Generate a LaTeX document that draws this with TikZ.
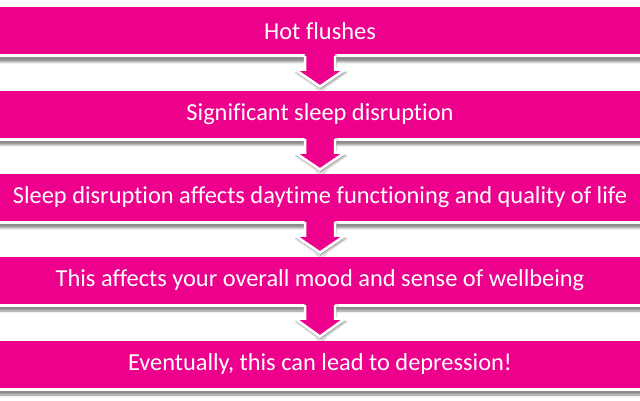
\documentclass[tikz,border=0pt]{standalone}
\usepackage{fontspec}
\setmainfont[Ligatures=NoCommon]{Carlito}
\usetikzlibrary{calc,shadows.blur}
\definecolor{mag}{HTML}{EC008C}
\tikzset{
  x=1pt,y=1pt,
  bar/.style={fill=mag, draw=white, line width=3pt, minimum width=646pt, minimum height=50pt,
    inner sep=0pt, text=white, font=\fontsize{24.4}{28}\selectfont,
    blur shadow={shadow xshift=0pt, shadow yshift=-6pt, shadow blur steps=6, shadow blur radius=2pt, shadow opacity=45}},
  arrowfill/.style={fill=mag,
    blur shadow={shadow xshift=1pt, shadow yshift=-3pt, shadow blur steps=5, shadow blur radius=2pt, shadow opacity=40}},
  arrowedge/.style={draw=white, line width=2.5pt, line join=miter},
}
\newcommand{\downarrowshape}[2]{%
  \path[arrowfill] ($(#1.south)+(-15,4)$) -- ($(#1.south)+(-15,-12)$) -- ($(#1.south)+(-25,-12)$)
     -- ($(#2.north)+(0,1)$) -- ($(#1.south)+(25,-12)$) -- ($(#1.south)+(15,-12)$) -- ($(#1.south)+(15,4)$) -- cycle;
  \draw[arrowedge] ($(#1.south)+(-15,1.5)$) -- ($(#1.south)+(-15,-12)$) -- ($(#1.south)+(-25,-12)$)
     -- ($(#2.north)+(0,1)$) -- ($(#1.south)+(25,-12)$) -- ($(#1.south)+(15,-12)$) -- ($(#1.south)+(15,1.5)$);
}
\begin{document}
\begin{tikzpicture}
\useasboundingbox (0,0) rectangle (640,400);
\node[bar] (b1) at (320,369) {Hot flushes};
\node[bar] (b2) at (320,286) {Significant sleep disruption};
\node[bar] (b3) at (320,203) {Sleep disruption affects daytime functioning and quality of life};
\node[bar] (b4) at (320,120) {This affects your overall mood and sense of wellbeing};
\node[bar] (b5) at (320,36) {Eventually, this can lead to depression!};
\downarrowshape{b1}{b2}
\downarrowshape{b2}{b3}
\downarrowshape{b3}{b4}
\downarrowshape{b4}{b5}
\end{tikzpicture}
\end{document}
